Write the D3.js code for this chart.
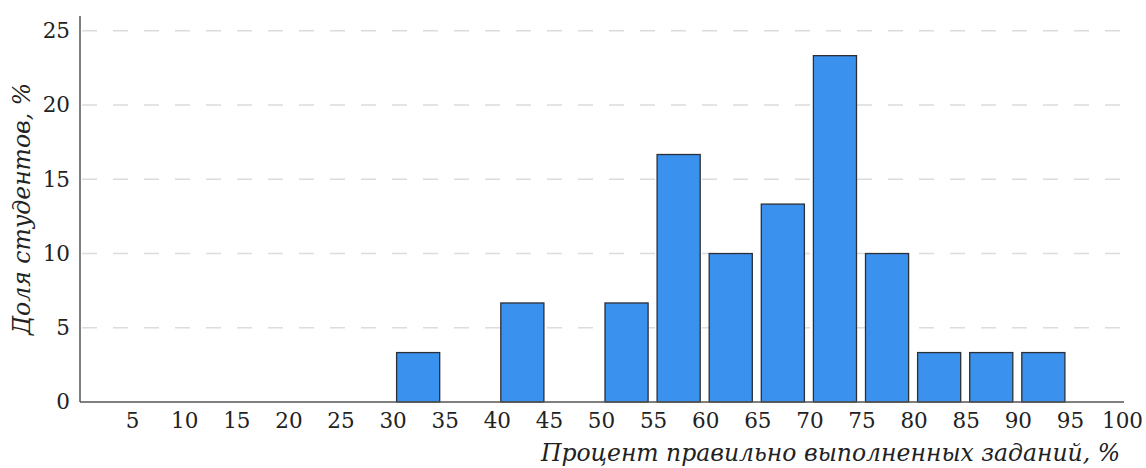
<!DOCTYPE html>
<html><head><meta charset="utf-8">
<script src="https://cdn.jsdelivr.net/npm/d3@7/dist/d3.min.js"></script>
<style>body{margin:0;background:#fff}svg{display:block}</style>
</head><body>
<script>
const binStarts = [0,5,10,15,20,25,30,35,40,45,50,55,60,65,70,75,80,85,90,95];
const shares = [0,0,0,0,0,0,3.33,0,6.67,0,6.67,16.67,10,13.33,23.33,10,3.33,3.33,3.33,0];
const xTicks = [5,10,15,20,25,30,35,40,45,50,55,60,65,70,75,80,85,90,95,100];
const yTicks = [0,5,10,15,20,25];
const xTitle = "Процент правильно выполненных заданий, %";
const yTitle = "Доля студентов, %";

const W=1146,H=468;
const svg=d3.select("body").append("svg").attr("width",W).attr("height",H);
const x=d3.scaleLinear().domain([0,100]).range([80,1122]);
const y=d3.scaleLinear().domain([0,26]).range([402,16]);
const font="'DejaVu Serif', serif";

// grid
svg.append("g").selectAll("line").data(yTicks.filter(d=>d>0)).join("line")
  .attr("x1",82).attr("x2",1122).attr("y1",d=>y(d)).attr("y2",d=>y(d))
  .attr("stroke","#dcdcdc").attr("stroke-width",1.5).attr("stroke-dasharray","15,16");

// bars
const data=binStarts.map((b,i)=>({b,v:shares[i]})).filter(d=>d.v>0);
svg.append("g").selectAll("rect").data(data).join("rect")
  .attr("x",d=>x(d.b)+4).attr("width",d=>x(d.b+5)-x(d.b)-9)
  .attr("y",d=>y(d.v)).attr("height",d=>y(0)-y(d.v))
  .attr("fill","#3a91ee").attr("stroke","#2b2f36").attr("stroke-width",1.3);

// axes
const xa=svg.append("g").attr("transform","translate(0,402)")
  .call(d3.axisBottom(x).tickValues(xTicks).tickSize(0).tickPadding(11));
xa.select(".domain").attr("stroke","#555").attr("stroke-width",1.5).attr("d","M80,0H1124");
xa.selectAll("text").attr("font-family",font).attr("font-size",21.5).attr("fill","#222");
const ya=svg.append("g").attr("transform","translate(80,0)")
  .call(d3.axisLeft(y).tickValues(yTicks).tickSize(0).tickPadding(10));
ya.select(".domain").attr("stroke","#555").attr("stroke-width",1.5).attr("d","M0,16V402");
ya.selectAll("text").attr("font-family",font).attr("font-size",21.5).attr("fill","#222");

svg.append("text").attr("x",1120).attr("y",461).attr("text-anchor","end")
  .attr("font-family",font).attr("font-style","italic").attr("font-size",23.5).attr("fill","#222").text(xTitle);
svg.append("text").attr("transform","translate(30,209) rotate(-90)").attr("text-anchor","middle")
  .attr("font-family",font).attr("font-style","italic").attr("font-size",23.5).attr("fill","#222").text(yTitle);
</script>
</body></html>
